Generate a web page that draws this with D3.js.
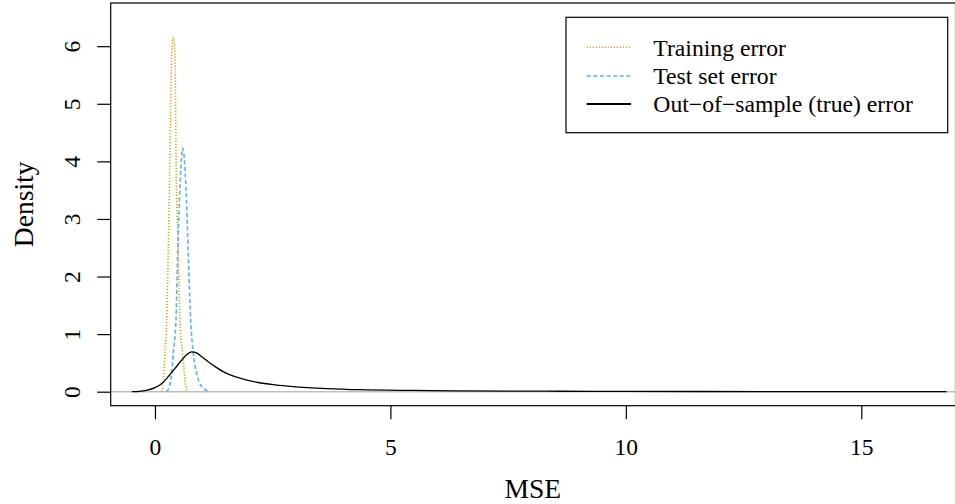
<!DOCTYPE html>
<html>
<head>
<meta charset="utf-8">
<script src="https://cdn.jsdelivr.net/npm/d3@7"></script>
<style>
  html, body { margin: 0; padding: 0; background: #fff; }
  svg { display: block; font-family: "Liberation Serif", "DejaVu Serif", serif; }
</style>
</head>
<body>
<svg id="chart" width="955" height="504"></svg>
<script>
// ---- Data ----
const trainX = [0.142, 0.164, 0.212, 0.248, 0.282, 0.319, 0.355, 0.389, 0.425, 0.446, 0.495, 0.531, 0.588, 0.658, 0.707];
const trainY = [0, 0.09, 0.67, 1.24, 2.41, 4.14, 5.87, 6.16, 5.87, 4.14, 2.41, 1.24, 0.67, 0.09, 0];

const testX = [0.248, 0.304, 0.355, 0.389, 0.446, 0.482, 0.531, 0.588, 0.658, 0.707, 0.758, 0.813, 0.886, 0.992, 1.168];
const testY = [0, 0.09, 0.32, 0.67, 1.245, 2.40, 3.56, 4.23, 3.56, 2.40, 1.245, 0.67, 0.32, 0.09, 0];

const trueX = [-0.49, -0.21, 0, 0.14, 0.28, 0.42, 0.57, 0.67, 0.78, 0.89, 0.99, 1.13, 1.27, 1.49, 1.70, 1.91, 2.19, 2.55, 2.93, 3.65, 4.35, 5.42, 6.48, 8.6, 10, 13, 16.81];
const trueY = [0, 0.02, 0.07, 0.14, 0.26, 0.40, 0.55, 0.64, 0.69, 0.67, 0.61, 0.52, 0.44, 0.33, 0.26, 0.21, 0.16, 0.12, 0.09, 0.055, 0.035, 0.022, 0.015, 0.008, 0.005, 0.003, 0.001];

const xTicks = [0, 5, 10, 15];
const yTicks = [0, 1, 2, 3, 4, 5, 6];
const seriesNames = ["Training error", "Test set error", "Out\u2212of\u2212sample (true) error"];
const seriesColors = ["#E69F00", "#56B4E9", "#000000"];
const seriesDash = ["1.2,1.8", "4,2.6", null];
const xLabel = "MSE";
const yLabel = "Density";

// ---- Layout ----
const svg = d3.select("#chart");
const box = { left: 110.7, right: 955.5, top: 3, bottom: 405.7 };

const x = d3.scaleLinear().domain([-0.94, 16.99]).range([box.left, 955]);
const y = d3.scaleLinear().domain([-0.243, 6.75]).range([box.bottom, box.top]);

svg.append("clipPath").attr("id", "plotclip")
  .append("rect").attr("x", box.left).attr("y", box.top)
  .attr("width", box.right - box.left).attr("height", box.bottom - box.top);

const plot = svg.append("g").attr("clip-path", "url(#plotclip)");

// zero reference line
plot.append("line")
  .attr("x1", box.left).attr("x2", box.right)
  .attr("y1", y(0)).attr("y2", y(0))
  .attr("stroke", "#bebebe").attr("stroke-width", 1.4);

const line = d3.line().x(d => x(d[0])).y(d => y(d[1])).curve(d3.curveMonotoneX);

const series = [
  d3.zip(trainX, trainY),
  d3.zip(testX, testY),
  d3.zip(trueX, trueY)
];
series.forEach((pts, k) => {
  plot.append("path")
    .attr("d", line(pts))
    .attr("fill", "none")
    .attr("stroke", seriesColors[k])
    .attr("stroke-width", k === 2 ? 1.3 : 1.6)
    .attr("stroke-dasharray", seriesDash[k]);
});

// box
svg.append("rect")
  .attr("x", box.left).attr("y", box.top)
  .attr("width", box.right - box.left).attr("height", box.bottom - box.top)
  .attr("fill", "none").attr("stroke", "#000").attr("stroke-width", 1.2);

// x axis
const xAxis = d3.axisBottom(x).tickValues(xTicks).tickSize(13.5).tickPadding(6).tickFormat(d3.format("d"));
const gx = svg.append("g").attr("transform", `translate(0,${box.bottom})`).call(xAxis);
gx.select(".domain").remove();
gx.selectAll(".tick line").attr("stroke", "#000").attr("stroke-width", 1.2);
gx.selectAll(".tick text").attr("font-size", "23.5px").attr("fill", "#000")
  .attr("font-family", "Liberation Serif").attr("dy", null).attr("y", 0)
  .attr("transform", "translate(0,49.3)");

// y axis
const yAxis = d3.axisLeft(y).tickValues(yTicks).tickSize(13.5).tickFormat(d3.format("d"));
const gy = svg.append("g").attr("transform", `translate(${box.left},0)`).call(yAxis);
gy.select(".domain").remove();
gy.selectAll(".tick line").attr("stroke", "#000").attr("stroke-width", 1.2);
gy.selectAll(".tick text").remove();
gy.selectAll(".tick").append("text")
  .attr("transform", `translate(${80 - box.left},0) rotate(-90)`)
  .attr("text-anchor", "middle")
  .attr("font-size", "23.5px").attr("fill", "#000")
  .attr("font-family", "Liberation Serif")
  .text(d => d);

// axis labels
svg.append("text")
  .attr("x", (box.left + 955) / 2).attr("y", 497.5)
  .attr("text-anchor", "middle").attr("font-size", "27.5px")
  .text(xLabel);
svg.append("text")
  .attr("transform", `translate(33,${(box.top + box.bottom) / 2}) rotate(-90)`)
  .attr("text-anchor", "middle").attr("font-size", "27.5px")
  .text(yLabel);

// legend
const lg = svg.append("g");
lg.append("rect")
  .attr("x", 566).attr("y", 17.3).attr("width", 947.7 - 566).attr("height", 132.7 - 17.3)
  .attr("fill", "#fff").attr("stroke", "#000").attr("stroke-width", 1.2);
const rowsY = [47.3, 76, 104];
seriesNames.forEach((name, i) => {
  lg.append("line")
    .attr("x1", 586.7).attr("x2", 631).attr("y1", rowsY[i]).attr("y2", rowsY[i])
    .attr("stroke", seriesColors[i]).attr("stroke-width", i === 2 ? 2 : 1.6)
    .attr("stroke-dasharray", seriesDash[i]);
  lg.append("text")
    .attr("x", 653.3).attr("y", rowsY[i]).attr("dy", "0.35em")
    .attr("font-size", "23.7px").text(name);
});
</script>
</body>
</html>
